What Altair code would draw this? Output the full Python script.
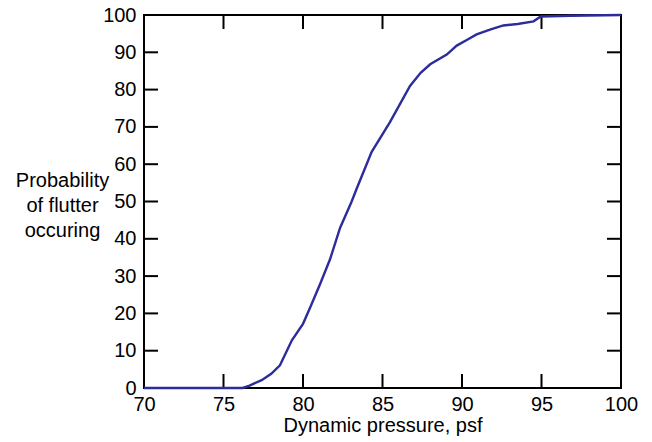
import altair as alt
import pandas as pd

# Curve data
pressure = [70, 76.2, 76.6, 77.4, 78.0, 78.55, 79.3, 80.0, 80.45, 81.07, 81.7, 82.33,
            83.06, 83.38, 84.32, 85.47, 86.73, 87.4, 88.0, 89.04, 89.67, 90.3, 90.92, 91.76,
            92.6, 93.5, 94.5, 94.95, 96.8, 100]
probability = [0, 0, 0.6, 2.1, 3.8, 6.1, 12.8, 17.2, 21.6, 27.8, 34.5, 42.9,
               50.0, 53.5, 63.3, 71.3, 81.0, 84.5, 86.8, 89.4, 91.8, 93.3, 94.8, 96.1,
               97.2, 97.6, 98.3, 99.6, 99.8, 100]

x_ticks = [75, 80, 85, 90, 95]
y_ticks = [10, 20, 30, 40, 50, 60, 70, 80, 90]
x_labels = [70, 75, 80, 85, 90, 95, 100]
y_labels = [0, 10, 20, 30, 40, 50, 60, 70, 80, 90, 100]

W, H = 477, 373
TICK = 14
FONT = "Liberation Sans"
FS = 20

df = pd.DataFrame({"p": pressure, "prob": probability})
xt = pd.DataFrame({"t": x_ticks})
yt = pd.DataFrame({"t": y_ticks})

xscale = alt.Scale(domain=[70, 100], nice=False, zero=False)
yscale = alt.Scale(domain=[0, 100], nice=False)

xaxis = alt.Axis(values=x_labels, title="Dynamic pressure, psf",
                 domain=False, ticks=False, grid=False,
                 labelFont=FONT, labelFontSize=FS, labelColor="black",
                 labelPadding=6, labelFlush=False, labelOverlap=False,
                 titleFont=FONT, titleFontSize=FS, titleFontWeight="normal",
                 titleColor="black", titleY=43, titleBaseline="alphabetic")
yaxis = alt.Axis(values=y_labels,
                 title=["Probability", "of flutter", "occuring"],
                 domain=False, ticks=False, grid=False,
                 labelFont=FONT, labelFontSize=FS, labelColor="black",
                 labelPadding=8, labelFlush=False, labelOverlap=False,
                 titleFont=FONT, titleFontSize=FS, titleFontWeight="normal",
                 titleColor="black", titleAngle=0, titleAlign="center",
                 titleBaseline="alphabetic", titleX=-82, titleY=171,
                 titleLineHeight=25)

line = alt.Chart(df).mark_line(color="#2c2c9a", strokeWidth=2.4).encode(
    x=alt.X("p:Q", scale=xscale, axis=xaxis),
    y=alt.Y("prob:Q", scale=yscale, axis=yaxis),
)

tick_style = dict(color="black", strokeWidth=2)

left_ticks = alt.Chart(yt).mark_rule(**tick_style).encode(
    y=alt.Y("t:Q", scale=yscale, axis=yaxis), x=alt.value(0), x2=alt.value(TICK))
right_ticks = alt.Chart(yt).mark_rule(**tick_style).encode(
    y=alt.Y("t:Q", scale=yscale, axis=yaxis), x=alt.value(W), x2=alt.value(W - TICK))
bottom_ticks = alt.Chart(xt).mark_rule(**tick_style).encode(
    x=alt.X("t:Q", scale=xscale, axis=xaxis), y=alt.value(H), y2=alt.value(H - TICK))
top_ticks = alt.Chart(xt).mark_rule(**tick_style).encode(
    x=alt.X("t:Q", scale=xscale, axis=xaxis), y=alt.value(0), y2=alt.value(TICK))

chart = alt.layer(left_ticks, right_ticks, bottom_ticks, top_ticks, line).properties(
    width=W, height=H,
    autosize=alt.AutoSizeParams(type="none"),
    padding={"left": 136, "top": 7, "right": 20, "bottom": 50},
    background="white",
).configure_view(
    stroke="black", strokeWidth=2
).configure_axis(
    labelOverlap=False
)

chart.save("out.html", embed_options={"renderer": "svg", "actions": False})
